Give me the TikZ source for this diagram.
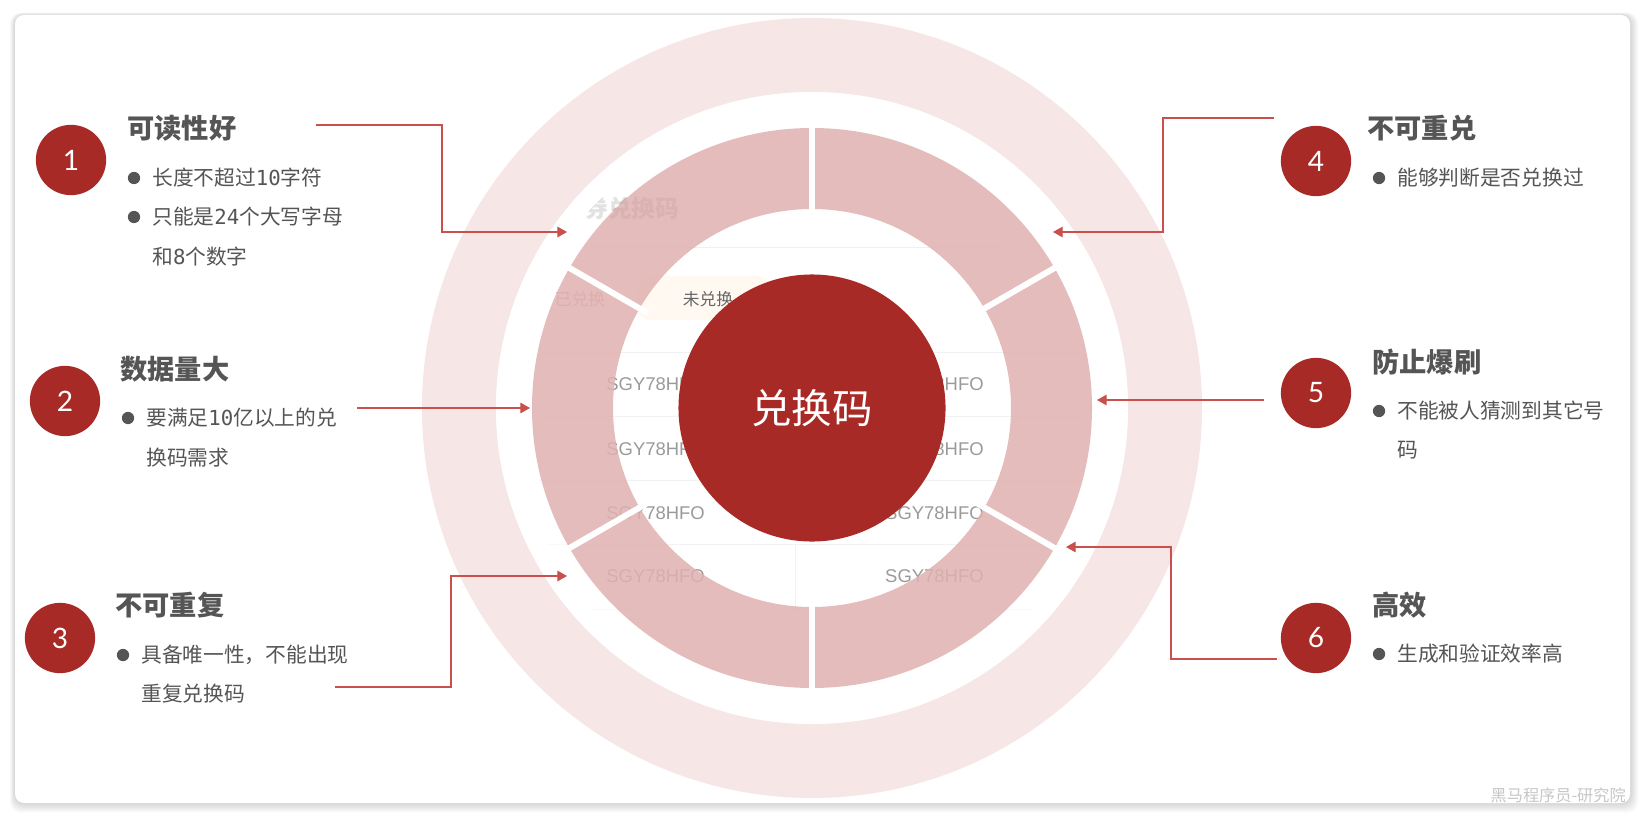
\documentclass[tikz,border=0pt]{standalone}
\usepackage{fontspec}
\usepackage{xcolor}
\usepackage{tikz}
\usetikzlibrary{arrows.meta, positioning, calc}
\newfontfamily\cjk{Noto Sans CJK SC}
\newfontfamily\mono{DejaVu Sans Mono}
\newfontfamily\numfont{Lato}
\newfontfamily\uifont{Liberation Sans}
\definecolor{codeRed}{HTML}{A82A26}
\definecolor{linkRed}{HTML}{C9504C}
\definecolor{ringPink}{HTML}{F6E6E6}
\definecolor{segPink}{HTML}{E0B1B0}
\definecolor{textGray}{HTML}{555555}
\definecolor{uiGray}{HTML}{9A9A9A}

\begin{document}
\begin{tikzpicture}[x=0.02cm, y=-0.02cm, font=\cjk, >={Triangle[length=5.5pt, width=6pt]},
    numc/.style={circle, fill=codeRed, minimum size=40pt, inner sep=0pt, text=white, font=\numfont\fontsize{16}{16}\selectfont},
    title/.style={anchor=west, inner sep=0pt, text=textGray, font=\cjk\bfseries\fontsize{15.5}{18}\selectfont},
    item/.style={anchor=west, inner sep=0pt, text=textGray, font=\cjk\fontsize{11.8}{14}\selectfont},
    dot/.style={circle, fill=textGray, minimum size=7pt, inner sep=0pt},
    link/.style={->, linkRed, line width=0.7pt},
    uitext/.style={inner sep=0pt, text=uiGray, font=\uifont\fontsize{10.5}{10.5}\selectfont}]
        \useasboundingbox (0,0) rectangle (1646,821);
        \fill[white] (0,0) rectangle (1646,821);

        % Card (soft shadow, then white face)
        \foreach \i in {1,...,8}
            \fill[black, opacity=0.02, rounded corners=6pt] (15-0.6*\i, 15-0.3*\i) rectangle (1630+\i, 803+1.2*\i);
        \fill[white, rounded corners=5pt] (15,15) rectangle (1630,803);

        % Rings round the centre
        \coordinate (o) at (812,408);
        \fill[ringPink] (o) circle (390);
        \fill[white] (o) circle (316);

        % Faded code list behind the segments
        \begin{scope}
            \clip (o) circle (298);
            \node[inner sep=0pt, anchor=west, text=black!28, font=\cjk\bfseries\fontsize{13.5}{13.5}\selectfont] (h) at (584,208) {券兑换码};
            \draw[black!6] (590,247) -- (1000,247);
            \fill[orange!5, rounded corners=9pt] (636,276) rectangle (772,320);
            \node[inner sep=0pt, text=codeRed!45, font=\cjk\fontsize{9.5}{9.5}\selectfont] (u1) at (580,299) {已兑换};
            \node[inner sep=0pt, text=black!60, font=\cjk\fontsize{9.5}{9.5}\selectfont] (u2) at (708,299) {未兑换};
            \foreach \y in {352,416,480,544,609}
                \draw[black!5] (540,\y) -- (1080,\y);
            \draw[black!5] (795,544) -- (795,609);
            \foreach \y in {384,449,513,576} {
                \node[uitext, anchor=west] at (606,\y) {SGY78HFO};
                \node[uitext, anchor=east] at (984,\y) {SGY78HFO};
            }
        \end{scope}
        \fill[white, opacity=0.6, even odd rule] (o) circle (316) (o) circle (281);

        % Six segments
        \fill[segPink, opacity=0.85, even odd rule] (o) circle (280) (o) circle (199);
        \foreach \a in {30,90,...,330}
            \draw[white, line width=3.4pt] ($(o)+(\a:190)$) -- ($(o)+(\a:290)$);

        % Centre
        \node[circle, fill=codeRed, minimum size=152pt, inner sep=0pt, text=white, font=\cjk\fontsize{23}{23}\selectfont] (p) at (o) {兑换码};

        % Left column
        \node[numc] (c1) at (71,160) {1};
        \node[title] (t1) at (127,128) {可读性好};
        \node[dot] (d1a) at (134,178) {};
        \node[item, right=6.5pt of d1a] (b1a) {长度不超过{\mono 10}字符};
        \node[dot] (d1b) at (134,217) {};
        \node[item, right=6.5pt of d1b] (b1b) {只能是{\mono 24}个大写字母};
        \node[item] (b1c) at (b1b.west |- 0,257) {和{\mono 8}个数字};

        \node[numc] (c2) at (65,401) {2};
        \node[title] (t2) at (120,369) {数据量大};
        \node[dot] (d2) at (128,418) {};
        \node[item, right=6.5pt of d2] (b2a) {要满足{\mono 10}亿以上的兑};
        \node[item] (b2b) at (b2a.west |- 0,458) {换码需求};

        \node[numc] (c3) at (60,638) {3};
        \node[title] (t3) at (115,605) {不可重复};
        \node[dot] (d3) at (123,655) {};
        \node[item, right=6.5pt of d3] (b3a) {具备唯一性，不能出现};
        \node[item] (b3b) at (b3a.west |- 0,694) {重复兑换码};

        % Right column
        \node[numc] (c4) at (1316,161) {4};
        \node[title] (t4) at (1367,128) {不可重兑};
        \node[dot] (d4) at (1379,178) {};
        \node[item, right=6.5pt of d4] (b4) {能够判断是否兑换过};

        \node[numc] (c5) at (1316,393) {5};
        \node[title] (t5) at (1372,362) {防止爆刷};
        \node[dot] (d5) at (1379,411) {};
        \node[item, right=6.5pt of d5] (b5a) {不能被人猜测到其它号};
        \node[item] (b5b) at (b5a.west |- 0,450) {码};

        \node[numc] (c6) at (1316,638) {6};
        \node[title] (t6) at (1372,605) {高效};
        \node[dot] (d6) at (1379,654) {};
        \node[item, right=6.5pt of d6] (b6) {生成和验证效率高};

        % Pointers into the ring
        \coordinate (s1) at (316,125);  \coordinate (e1) at (567,232);
        \coordinate (s2) at (357,408);  \coordinate (e2) at (530,408);
        \coordinate (s3) at (335,687);  \coordinate (e3) at (567,576);
        \coordinate (s4) at (1274,118); \coordinate (e4) at (1053,232);
        \coordinate (s5) at (1264,400); \coordinate (e5) at (1097,400);
        \coordinate (s6) at (1277,659); \coordinate (e6) at (1066,547);
        \draw[link] (s1) -- ++(126,0) |- (e1);
        \draw[link] (s2) -- (e2);
        \draw[link] (s3) -- ++(116,0) |- (e3);
        \draw[link] (s4) -- ++(-111,0) |- (e4);
        \draw[link] (s5) -- (e5);
        \draw[link] (s6) -- ++(-106,0) |- (e6);

        % Watermark
        \node[anchor=east, inner sep=0pt, text=black!22, font=\cjk\fontsize{9.2}{9.2}\selectfont] (wm) at (1626,795) {黑马程序员-研究院};
    \end{tikzpicture}
\end{document}
